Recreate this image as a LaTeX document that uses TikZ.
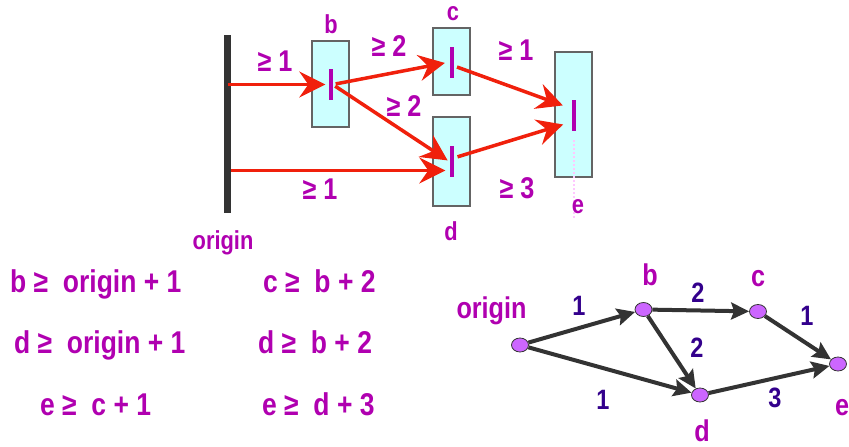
\documentclass[tikz,border=0pt]{standalone}
\usepackage{fontspec}
\setmainfont[FakeStretch=0.84]{Liberation Sans}
\usetikzlibrary{arrows.meta,shapes.geometric}
\definecolor{pur}{RGB}{176,0,176}
\definecolor{indig}{RGB}{51,0,140}
\definecolor{redc}{RGB}{240,32,12}
\definecolor{boxfill}{RGB}{204,255,255}
\definecolor{boxline}{RGB}{100,100,100}
\definecolor{barc}{RGB}{51,51,51}
\definecolor{nodefill}{RGB}{204,102,255}
\definecolor{pinkd}{RGB}{255,200,255}
\tikzset{
  tbox/.style={draw=boxline, fill=boxfill, line width=1.3pt, minimum width=37pt, inner sep=0pt},
  tmark/.style={fill=pur, minimum width=4pt, minimum height=31pt, inner sep=0pt},
  redarr/.style={draw=redc, line width=3.5pt, -{Stealth[length=26pt,width=26pt,inset=9pt]}},
  toplbl/.style={text=pur, font=\fontsize{30}{32}\selectfont\bfseries, inner sep=0pt},
  letlbl/.style={text=pur, font=\fontsize{26}{28}\selectfont\bfseries, inner sep=0pt, anchor=base},
  eqlbl/.style={text=pur, font=\fontsize{31.5}{34}\selectfont\bfseries, inner sep=0pt, anchor=base west},
  glbl/.style={text=pur, font=\fontsize{30}{32}\selectfont\bfseries, inner sep=0pt, anchor=base},
  elbl/.style={text=indig, font=\fontsize{28}{30}\selectfont\bfseries, inner sep=0pt, anchor=base},
  gnode/.style={ellipse, draw=barc, fill=nodefill, line width=0.8pt, minimum width=17pt, minimum height=14pt, inner sep=0pt},
  garr/.style={draw=barc, line width=4pt, -{Stealth[length=18pt,width=17pt,inset=3pt]}},
  pinkdot/.style={draw=pinkd, line width=2pt, dotted}
}
\begin{document}
\begin{tikzpicture}[x=1pt,y=-1pt]
\useasboundingbox (0,0) rectangle (849,447);
% ---- top diagram ----
\node[fill=barc, minimum width=7pt, minimum height=178pt, inner sep=0pt] (obar) at (227.5,124) {};
\node[tbox, minimum height=86pt] (bbox) at (330.5,84) {};
\node[tbox, minimum height=67pt] (cbox) at (451.5,61.5) {};
\node[tbox, minimum height=89pt] (dbox) at (451.5,161.5) {};
\node[tbox, minimum height=125pt] (ebox) at (573.5,114.5) {};
\node[tmark] (bmark) at (330.5,84.5) {};
\node[tmark] (cmark) at (452,62) {};
\node[tmark] (dmark) at (451.5,161.5) {};
\node[tmark] (emark) at (573.5,115.5) {};
\coordinate (eend) at (573.5,218);
\draw[pinkdot, shorten <=9pt] (emark.south) -- (eend);
\coordinate (dlo) at ([yshift=-9pt]dmark.west);
\coordinate (cst) at ([yshift=-4pt]cmark.east);
\coordinate (dst) at ([yshift=3.5pt]dmark.east);
\coordinate (eup) at ([yshift=7pt]emark.west);
\coordinate (edn) at ([yshift=-6.5pt]emark.west);
\draw[redarr, shorten >=3pt] (obar.center |- bmark.west) -- (bmark.west);
\draw[redarr, shorten >=4pt] (obar.east |- dlo) -- (dlo);
\draw[redarr, shorten <=3pt, shorten >=5pt] (bmark.east) -- (cmark.west);
\draw[redarr, shorten <=3pt, shorten >=2pt] (bmark.east) -- (dmark.west);
\draw[redarr, shorten <=3pt, shorten >=9pt] (cst) -- (eup);
\draw[redarr, shorten <=4pt, shorten >=8.5pt] (dst) -- (edn);
\node[toplbl] (l1) at (275,61) {≥ 1};
\node[toplbl] (l2) at (389,46) {≥ 2};
\node[toplbl] (l3) at (404,106) {≥ 2};
\node[toplbl] (l4) at (320,189) {≥ 1};
\node[toplbl] (l5) at (516,50) {≥ 1};
\node[toplbl] (l6) at (517,188) {≥ 3};
\node[letlbl] (tb) at (331,34) {b};
\node[letlbl] (tc) at (453,20) {c};
\node[letlbl] (td) at (451,240) {d};
\node[letlbl] (te) at (578,213) {e};
\node[letlbl] (to) at (223,249) {origin};
% ---- equations ----
\node[eqlbl] (q1) at (10,292) {b ≥~~origin + 1};
\node[eqlbl] (q2) at (263,292) {c ≥~~b + 2};
\node[eqlbl] (q3) at (14,353) {d ≥~~origin + 1};
\node[eqlbl] (q4) at (258,353) {d ≥~~b + 2};
\node[eqlbl] (q5) at (40,415) {e ≥~~c + 1};
\node[eqlbl] (q6) at (262,415) {e ≥~~d + 3};
% ---- graph ----
\node[gnode] (go) at (520,345) {};
\node[gnode] (gb) at (643.5,309.5) {};
\node[gnode] (gc) at (758,311.5) {};
\node[gnode] (gd) at (700,395) {};
\node[gnode] (ge) at (838,364) {};
\draw[garr] (go) -- (gb);
\draw[garr] (gb) -- (gc);
\draw[garr] (gb) -- (gd);
\draw[garr] (go) -- (gd);
\draw[garr] (gc) -- (ge);
\draw[garr] (gd) -- (ge);
\node[glbl] (ngo) at (491.5,318) {origin};
\node[glbl] (ngb) at (650,285) {b};
\node[glbl] (ngc) at (758,286) {c};
\node[glbl] (ngd) at (702,441) {d};
\node[glbl] (nge) at (842,415) {e};
\node[elbl] (w1) at (579,315) {1};
\node[elbl] (w2) at (698,302) {2};
\node[elbl] (w3) at (697,357) {2};
\node[elbl] (w4) at (807,325) {1};
\node[elbl] (w5) at (603,409) {1};
\node[elbl] (w6) at (775,407) {3};
\end{tikzpicture}
\end{document}
